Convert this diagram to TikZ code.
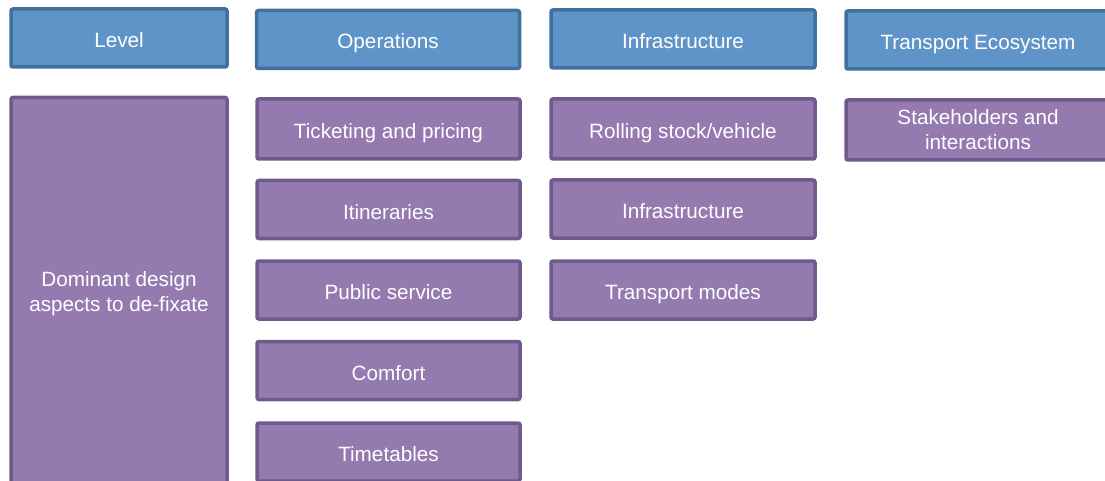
\documentclass[tikz,border=0pt]{standalone}
\usepackage{fontspec}
\setmainfont{Liberation Sans}
\definecolor{levelfill}{RGB}{95,148,200}
\definecolor{leveledge}{RGB}{66,112,158}
\definecolor{aspectfill}{RGB}{148,122,175}
\definecolor{aspectedge}{RGB}{110,90,140}

\begin{document}
\begin{tikzpicture}[x = 1pt, y = -1pt, line width = 3.5pt,
		levelbox/.style = {draw = leveledge, fill = levelfill, rounded corners = 2pt,
			text = white, font = \fontsize{20.7}{25}\selectfont, align = center,
			inner sep = 0pt, minimum height = 58pt, text height = 19pt, text depth = 0pt},
		aspectbox/.style = {levelbox, draw = aspectedge, fill = aspectfill},
		twolines/.style = {text height = {}, text depth = {}}]
		\useasboundingbox (0,0) rectangle (1105,481);
		\clip (0,0) rectangle (1105,481);
		% header row
		\node [levelbox, minimum width = 216pt] (level) at (119,38) {Level};
		\node [levelbox, minimum width = 263pt] (operations) at (388,39.5) {Operations};
		\node [levelbox, minimum width = 264pt] (infra) at (683,39) {Infrastructure};
		\node [levelbox, minimum width = 264pt] (ecosystem) at (978,40) {Transport Ecosystem};
		% aspects
		\node [aspectbox, twolines, minimum width = 216pt, minimum height = 392pt] (dominant) at (119,293.5)
			{Dominant design\\aspects to de-fixate};
		\node [aspectbox, minimum width = 263pt, minimum height = 60pt] (ticketing) at (388.5,129) {Ticketing and pricing};
		\node [aspectbox, minimum width = 263pt] (itineraries) at (388.5,209.5) {Itineraries};
		\node [aspectbox, minimum width = 263pt] (public) at (388.5,290) {Public service};
		\node [aspectbox, minimum width = 263pt] (comfort) at (388.5,370.5) {Comfort};
		\node [aspectbox, minimum width = 263pt] (timetables) at (388.5,452) {Timetables};
		\node [aspectbox, minimum width = 264pt, minimum height = 60pt] (rolling) at (683,129) {Rolling stock/vehicle};
		\node [aspectbox, minimum width = 264pt] (infrastructure) at (683,209) {Infrastructure};
		\node [aspectbox, minimum width = 264pt] (modes) at (683,290) {Transport modes};
		\node [aspectbox, twolines, minimum width = 264pt, minimum height = 60pt] (stakeholders) at (978,130)
			{Stakeholders and\\interactions};
	\end{tikzpicture}
\end{document}
